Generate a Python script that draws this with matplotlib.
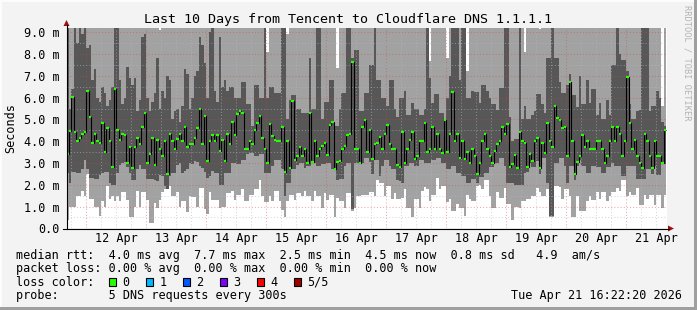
import datetime as dt
import matplotlib
matplotlib.use("Agg")
import matplotlib.pyplot as plt
import matplotlib.dates as mdates
from matplotlib.patches import Rectangle, Polygon
import numpy as np

plt.rcParams['font.family'] = ['DejaVu Sans Mono', 'DejaVu Sans']

W, H = 697, 310

end_time = dt.datetime(2026, 4, 21, 16, 22, 20)
start_time = end_time - dt.timedelta(days=10)
first_bar = dt.datetime(2026, 4, 11, 16, 0, 0)   # hourly consolidated bars

# median rtt per hour (ms)
median_ms = [
    3.4, 4.45, 6.05, 4.4, 4.0, 4.15, 4.35, 4.4, 6.3, 5.1,
    3.9, 4.35, 4.0, 3.9, 4.85, 3.5, 4.6, 4.0, 2.8, 6.4,
    4.5, 4.05, 4.35, 4.3, 3.0, 3.75, 2.75, 3.75, 4.15, 3.85,
    4.65, 5.3, 3.0, 3.4, 4.15, 2.9, 4.05, 3.65, 3.3, 4.0,
    2.5, 4.35, 4.0, 3.65, 4.1, 4.35, 4.0, 4.65, 3.75, 3.85,
    3.85, 4.15, 4.6, 5.5, 3.85, 5.15, 3.1, 4.0, 4.3, 4.0,
    4.3, 3.55, 4.05, 3.1, 4.35, 3.85, 4.9, 4.3, 5.25, 5.4,
    5.3, 3.65, 3.65, 4.0, 3.85, 4.5, 4.85, 5.15, 4.15, 3.65,
    3.0, 4.8, 4.25, 4.05, 4.0, 4.0, 4.65, 2.6, 4.0, 2.75,
    5.85, 3.15, 3.3, 3.75, 3.3, 3.65, 3.0, 5.3, 3.05, 4.0,
    3.3, 3.65, 3.8, 3.9, 3.35, 4.75, 4.9, 2.7, 3.05, 3.1,
    3.65, 3.8, 4.3, 4.35, 7.65, 3.65, 3.65, 3.0, 4.65, 4.95,
    3.5, 4.5, 3.2, 3.85, 3.9, 4.2, 3.65, 4.35, 4.75, 3.85,
    3.65, 3.65, 2.9, 2.8, 4.4, 3.0, 3.65, 4.05, 4.4, 3.2,
    3.3, 4.0, 4.0, 4.85, 3.5, 3.65, 4.65, 3.65, 4.35, 3.65,
    3.45, 4.95, 3.5, 4.35, 6.25, 4.0, 4.35, 3.25, 4.0, 3.2,
    3.5, 3.0, 3.65, 3.3, 2.5, 3.0, 4.0, 4.35, 3.65, 3.3,
    3.0, 3.55, 3.85, 4.0, 4.65, 4.35, 4.8, 2.8, 2.95, 3.35,
    2.75, 4.4, 4.0, 3.9, 2.8, 3.4, 3.1, 4.0, 4.15, 2.75,
    3.9, 3.45, 4.85, 4.0, 3.75, 5.6, 5.05, 4.95, 4.6, 4.65,
    3.3, 6.7, 4.0, 2.5, 3.05, 3.3, 4.3, 3.75, 4.0, 3.65,
    3.65, 3.65, 4.0, 4.0, 3.65, 3.0, 3.3, 4.0, 4.65, 4.0,
    4.65, 4.35, 3.3, 4.0, 6.95, 4.85, 3.65, 4.05, 3.3, 3.0,
    2.75, 4.35, 4.0, 3.3, 2.75, 4.0, 3.3, 3.3, 3.0, 4.5,
]

# smoke: lowest ping (top of the white area)
ping_low = [
    0.4, 1.0, 1.0, 1.0, 1.5, 1.5, 1.7, 1.5, 2.5, 1.35,
    1.35, 1.0, 1.0, 0.55, 1.25, 1.0, 1.95, 1.35, 1.5, 1.25,
    1.5, 1.25, 1.65, 1.65, 1.3, 0.5, 0.5, 1.0, 1.7, 1.0,
    1.65, 1.65, 1.3, 0.25, 0.25, 1.15, 0.95, 1.3, 1.65, 1.8,
    1.8, 1.95, 1.5, 1.5, 1.65, 1.0, 1.25, 1.25, 0.75, 1.5,
    1.45, 1.45, 1.0, 1.85, 1.85, 0.9, 0.65, 1.65, 1.3, 1.3,
    1.3, 0.95, 1.0, 1.0, 1.6, 1.6, 1.7, 1.3, 1.55, 1.55,
    1.8, 1.25, 1.25, 1.55, 1.55, 1.8, 1.8, 2.2, 1.5, 1.2,
    1.2, 1.5, 1.25, 1.7, 1.7, 1.25, 0.85, 0.5, 1.25, 1.55,
    1.55, 1.3, 1.6, 1.6, 1.5, 1.7, 1.5, 1.5, 1.25, 1.7,
    1.5, 1.5, 0.95, 1.6, 1.3, 1.55, 1.55, 0.5, 1.4, 1.25,
    1.25, 0.95, 1.6, 1.6, 0.8, 0.95, 1.5, 1.5, 1.55, 1.55,
    1.55, 1.65, 1.65, 1.5, 2.2, 2.1, 2.1, 1.5, 1.95, 1.95,
    1.35, 1.6, 1.35, 1.35, 1.4, 1.8, 0.95, 0.95, 0.5, 1.35,
    1.35, 0.95, 1.7, 1.9, 1.8, 1.25, 1.55, 1.55, 2.3, 1.8,
    1.95, 1.95, 1.2, 1.35, 0.8, 0.8, 1.1, 0.95, 0.95, 0.55,
    1.55, 1.35, 1.25, 1.25, 1.95, 2.0, 1.8, 2.2, 2.2, 1.5,
    0.95, 0.95, 1.65, 1.4, 1.4, 1.85, 1.1, 1.1, 0.4, 1.0,
    1.0, 0.95, 1.25, 1.25, 1.35, 1.35, 1.5, 1.5, 1.85, 1.65,
    1.5, 1.5, 1.8, 0.5, 0.5, 1.95, 1.95, 1.9, 1.35, 1.8,
    1.8, 1.5, 0.5, 0.5, 1.5, 0.8, 0.8, 0.8, 1.25, 1.5,
    1.3, 1.3, 1.65, 1.35, 1.65, 1.65, 1.25, 1.5, 1.65, 1.65,
    1.85, 1.7, 2.2, 2.2, 1.5, 1.65, 1.55, 1.55, 1.85, 1.05,
    1.05, 1.55, 1.35, 1.55, 1.55, 1.05, 1.55, 1.55, 0.95, 1.55,
]

# smoke: bottom of the dark band
ping_q1 = [
    2.55, 2.1, 2.6, 2.6, 2.55, 2.55, 2.7, 3.15, 2.7, 2.3,
    2.3, 2.25, 2.25, 2.45, 2.55, 2.6, 2.6, 2.1, 2.0, 2.0,
    2.55, 2.9, 3.0, 3.05, 2.8, 2.55, 2.2, 2.2, 2.7, 2.9,
    2.7, 2.7, 2.25, 2.25, 2.25, 2.2, 2.15, 2.45, 2.4, 1.95,
    1.8, 2.4, 2.55, 2.55, 2.9, 3.0, 2.55, 2.65, 2.7, 3.0,
    2.95, 3.1, 3.05, 2.85, 2.75, 2.6, 2.3, 2.4, 2.65, 2.55,
    2.55, 2.0, 2.0, 2.55, 2.55, 2.55, 3.0, 3.0, 2.95, 2.95,
    3.15, 3.15, 3.4, 3.45, 3.45, 3.3, 3.3, 3.4, 3.4, 2.55,
    2.55, 2.55, 2.85, 3.15, 3.15, 3.15, 2.7, 1.5, 2.1, 2.1,
    2.7, 2.7, 2.9, 3.0, 3.0, 2.75, 2.85, 2.85, 3.0, 3.0,
    2.85, 2.85, 2.95, 2.95, 3.0, 3.0, 2.7, 2.7, 2.2, 2.25,
    2.25, 2.85, 3.0, 3.0, 0.9, 3.0, 3.0, 3.0, 3.0, 3.25,
    3.25, 3.05, 2.5, 3.15, 3.15, 2.4, 2.85, 3.15, 3.15, 2.85,
    2.7, 2.7, 2.2, 2.15, 2.1, 2.85, 2.85, 3.0, 3.0, 2.85,
    2.85, 3.15, 3.15, 3.0, 3.0, 3.0, 3.15, 3.15, 3.25, 3.25,
    3.0, 3.0, 2.7, 2.7, 2.85, 2.85, 2.55, 2.55, 2.4, 2.4,
    2.1, 2.1, 2.25, 2.25, 2.1, 2.35, 2.35, 2.55, 2.55, 2.8,
    2.8, 3.0, 3.0, 3.25, 3.25, 2.85, 2.1, 2.1, 2.1, 2.0,
    2.0, 2.0, 2.0, 2.55, 2.6, 3.0, 2.8, 2.8, 3.1, 2.5,
    3.25, 3.25, 2.1, 0.55, 0.55, 3.0, 3.0, 3.25, 3.25, 2.85,
    2.1, 2.85, 2.85, 2.2, 2.85, 3.15, 2.85, 2.85, 2.55, 2.55,
    2.85, 2.85, 2.8, 2.8, 2.55, 2.55, 2.8, 2.8, 3.0, 2.85,
    2.85, 2.85, 2.4, 2.4, 2.85, 2.85, 2.85, 2.85, 2.25, 2.25,
    2.25, 2.25, 2.7, 2.7, 2.5, 2.85, 2.45, 2.45, 2.95, 2.95,
]

# smoke: top of the dark band (values above 9.2 are cut by the graph)
ping_q3 = [
    9.5, 5.5, 6.4, 9.5, 8.5, 9.5, 8.9, 9.5, 8.3, 8.4,
    6.8, 7.3, 6.0, 5.8, 6.5, 6.2, 5.6, 5.9, 6.5, 9.5,
    9.5, 6.8, 5.7, 6.0, 7.4, 6.9, 6.6, 6.9, 5.4, 5.9,
    8.8, 8.9, 6.0, 5.4, 5.8, 6.2, 7.8, 5.5, 6.3, 6.0,
    7.0, 6.8, 5.0, 5.4, 5.5, 4.9, 5.6, 7.3, 7.1, 5.5,
    6.0, 7.0, 7.2, 8.8, 8.4, 7.6, 6.0, 9.0, 9.3, 6.3,
    5.8, 8.8, 6.5, 6.8, 6.3, 6.5, 6.5, 6.0, 6.0, 6.0,
    6.7, 6.7, 5.7, 5.7, 4.7, 6.6, 6.6, 6.0, 6.0, 9.5,
    6.0, 6.5, 6.5, 6.2, 6.2, 6.2, 9.5, 9.5, 5.0, 5.9,
    6.1, 6.1, 5.5, 5.5, 5.3, 5.3, 5.3, 7.8, 5.5, 5.5,
    9.5, 9.5, 5.0, 5.8, 5.8, 6.8, 6.8, 4.7, 4.7, 5.5,
    6.2, 6.2, 9.5, 9.5, 7.8, 8.2, 8.2, 5.4, 5.4, 6.2,
    6.2, 7.5, 7.5, 9.5, 6.8, 6.8, 6.0, 6.0, 5.6, 6.8,
    6.8, 5.5, 5.1, 6.0, 6.0, 6.3, 5.2, 5.2, 5.75, 5.5,
    5.5, 5.2, 5.2, 5.5, 9.5, 6.9, 5.75, 6.15, 6.15, 5.3,
    5.3, 5.0, 6.0, 7.0, 9.5, 9.5, 9.5, 6.8, 9.5, 9.5,
    6.0, 6.0, 6.3, 6.25, 6.25, 5.75, 6.6, 6.6, 6.3, 6.0,
    5.7, 5.7, 5.45, 6.45, 6.45, 9.5, 9.5, 5.1, 4.0, 4.1,
    4.1, 9.5, 5.0, 5.6, 5.0, 5.0, 5.2, 5.4, 6.15, 6.15,
    5.7, 5.3, 7.8, 7.8, 9.5, 7.8, 7.8, 6.7, 6.2, 6.2,
    6.6, 7.1, 6.1, 6.1, 5.55, 7.0, 5.7, 5.7, 6.8, 5.75,
    6.4, 6.4, 5.2, 5.75, 5.0, 5.0, 5.9, 5.2, 7.5, 7.5,
    9.5, 8.0, 7.75, 7.75, 7.2, 5.7, 5.0, 5.0, 5.4, 5.45,
    9.5, 9.5, 9.5, 5.4, 5.6, 5.6, 6.3, 6.0, 4.9, 4.7,
]

# smoke: highest ping (top of the light band, mostly above the graph)
ping_high = [
    9.6, 9.6, 9.6, 9.6, 9.6, 9.6, 9.6, 9.6, 9.6, 9.6, 9.6, 9.6, 9.6, 9.6, 9.6, 9.6, 9.6, 9.6, 9.6, 9.6,
    9.6, 9.6, 9.6, 9.6, 9.6, 9.6, 9.6, 9.6, 9.6, 9.6, 9.6, 9.6, 9.6, 9.6, 9.6, 9.6, 9.6, 9.1, 9.6, 9.6,
    9.6, 9.6, 9.6, 9.6, 9.6, 9.6, 9.6, 9.6, 9.6, 9.6, 9.6, 9.6, 9.6, 9.6, 9.6, 9.6, 9.6, 9.6, 9.6, 9.6,
    9.6, 9.6, 9.6, 9.6, 9.6, 9.6, 9.6, 9.6, 9.6, 9.6, 9.6, 9.6, 9.6, 9.6, 9.6, 9.6, 9.6, 9.6, 9.6, 9.6,
    8.1, 9.6, 9.6, 9.6, 9.6, 9.6, 9.6, 9.6, 8.9, 9.6, 9.6, 9.6, 9.6, 9.6, 9.6, 9.6, 9.6, 9.6, 9.6, 9.6,
    9.6, 9.6, 9.6, 9.6, 9.6, 9.6, 9.6, 9.6, 7.35, 9.6, 9.6, 9.6, 9.6, 9.6, 9.6, 9.6, 9.6, 9.6, 9.6, 9.6,
    9.6, 9.6, 9.6, 9.6, 9.6, 9.6, 9.6, 9.6, 9.6, 9.6, 9.6, 9.6, 9.6, 9.6, 9.6, 9.6, 9.6, 9.6, 9.6, 9.6,
    9.6, 9.6, 9.6, 9.6, 9.6, 7.7, 9.6, 9.6, 9.6, 9.6, 9.6, 9.6, 7.8, 9.6, 9.6, 9.6, 9.6, 9.6, 9.6, 9.6,
    7.2, 9.6, 9.6, 9.6, 9.6, 9.6, 9.6, 9.6, 9.6, 9.6, 9.6, 9.6, 9.6, 9.6, 9.6, 9.6, 9.6, 9.6, 9.6, 9.6,
    9.6, 9.6, 9.6, 8.1, 9.6, 9.6, 9.6, 9.6, 9.6, 9.15, 9.6, 9.6, 9.6, 9.6, 9.6, 9.6, 9.6, 9.6, 9.6, 9.6,
    9.6, 9.6, 9.6, 9.6, 9.6, 9.6, 9.6, 9.6, 9.6, 9.6, 9.6, 9.6, 9.6, 9.6, 9.6, 9.6, 9.6, 9.6, 9.6, 9.6,
    9.6, 9.6, 9.6, 9.6, 9.6, 9.6, 9.6, 9.6, 9.6, 9.6, 9.6, 9.6, 9.6, 9.6, 9.6, 9.6, 9.6, 9.6, 5.6, 9.6,
]

y_ticks = [0, 1, 2, 3, 4, 5, 6, 7, 8, 9]
y_labels = ['0.0', '1.0 m', '2.0 m', '3.0 m', '4.0 m', '5.0 m', '6.0 m', '7.0 m', '8.0 m', '9.0 m']

loss_labels = ['0', '1', '2', '3', '4', '5/5']
loss_colors = ['#26ff00', '#00b8ff', '#0059ff', '#7e00ff', '#ff0000', '#a10000']

legend_lines = [
    'median rtt:  4.0 ms avg  7.7 ms max  2.5 ms min  4.5 ms now  0.8 ms sd   4.9  am/s',
    'packet loss: 0.00 % avg  0.00 % max  0.00 % min  0.00 % now',
    'loss color:',
    'probe:       5 DNS requests every 300s',
]

fig = plt.figure(figsize=(W / 100, H / 100), dpi=100)
fig.patch.set_facecolor('#f3f3f3')

x0, x1, y_top, y_bot = 67, 667, 28, 228.3
ax = fig.add_axes([x0 / W, (H - y_bot) / H, (x1 - x0) / W, (y_bot - y_top) / H])
ax.set_facecolor('white')

n = len(median_ms)
edges = mdates.date2num(first_bar) + np.arange(n + 1) / 24.0

light = '#a2a2a2'
dark = '#575757'
ax.stairs(ping_high, edges, baseline=ping_low, fill=True, color=light, lw=0, zorder=1)
ax.stairs(ping_q3, edges, baseline=ping_q1, fill=True, color=dark, lw=0, zorder=1.5)

# grid: minor every 6 h / 0.5 ms, major at midnight / 1 ms
t = start_time.replace(minute=0, second=0) + dt.timedelta(hours=2)
while t < end_time:
    if t.hour == 0:
        ax.axvline(mdates.date2num(t), color='#e04040', alpha=0.45, lw=0.75,
                   ls=(0, (1, 2)), zorder=2)
    elif t.hour % 6 == 0:
        ax.axvline(mdates.date2num(t), color='#b8b8b8', alpha=0.55, lw=0.75,
                   ls=(0, (1, 2)), zorder=2)
    t += dt.timedelta(hours=1)
for v in np.arange(0.5, 9.1, 0.5):
    if v % 1 == 0:
        ax.axhline(v, color='#e04040', alpha=0.45, lw=0.75, ls=(0, (1, 2)), zorder=2)
    else:
        ax.axhline(v, color='#b8b8b8', alpha=0.55, lw=0.75, ls=(0, (1, 2)), zorder=2)

ax.stairs(median_ms, edges, baseline=None, color='black', lw=0.8, zorder=3)
ax.hlines(median_ms, edges[:-1], edges[1:], colors='#26ff00', lw=1.6, zorder=4)

ax.set_xlim(mdates.date2num(start_time), mdates.date2num(end_time))
ax.set_ylim(0, (y_bot - y_top) / 21.78)

noons = [dt.datetime(2026, 4, d, 12) for d in range(12, 22)]
ax.set_xticks(mdates.date2num(noons))
ax.xaxis.set_major_formatter(mdates.DateFormatter('%d %b'))
ax.set_yticks(y_ticks)
ax.set_yticklabels(y_labels)
ax.tick_params(axis='both', length=0, labelsize=8.5, colors='black')
ax.tick_params(axis='x', pad=3)
ax.tick_params(axis='y', pad=5)
for s in ax.spines.values():
    s.set_visible(False)

# overlay in pixel coordinates for frame, axes arrows and legend
ov = fig.add_axes([0, 0, 1, 1], zorder=10)
ov.set_xlim(0, W)
ov.set_ylim(H, 0)
ov.axis('off')
ov.patch.set_alpha(0)

ov.add_patch(Rectangle((0, 0), W, 2, color='#fcfcfc', lw=0))
ov.add_patch(Rectangle((0, 0), 2, H, color='#fcfcfc', lw=0))
ov.add_patch(Rectangle((0, H - 3), W, 3, color='#9f9f9f', lw=0))
ov.add_patch(Rectangle((W - 3, 0), 3, H, color='#9f9f9f', lw=0))

ov.plot([66.5, 66.5], [229, 25], color='black', lw=0.8)
ov.plot([63, 669], [228.5, 228.5], color='black', lw=0.8)
ov.add_patch(Polygon([[63.5, 26], [69.5, 26], [66.5, 20]], closed=True, color='#a01010', lw=0))
ov.add_patch(Polygon([[668, 225.5], [668, 231.5], [674, 228.5]], closed=True, color='#a01010', lw=0))

ov.text(348, 19, 'Last 10 Days from Tencent to Cloudflare DNS 1.1.1.1',
        ha='center', va='center', fontsize=9.6)
ov.text(11, 128, 'Seconds', rotation=90, ha='center', va='center', fontsize=8.5)
ov.text(687, 5, 'RRDTOOL / TOBI OETIKER', rotation=270, ha='center', va='top',
        fontsize=6.2, color='#b4b4b4')

rows_y = [255, 268.5, 282, 296]
for txt, yy in zip(legend_lines, rows_y):
    ov.text(16, yy, txt, ha='left', va='center', fontsize=8.5)
for i, (lab, col) in enumerate(zip(loss_labels, loss_colors)):
    bx = 108.5 + 37 * i
    ov.add_patch(Rectangle((bx, 277.5), 7.5, 8.5, facecolor=col, edgecolor='black', lw=0.8))
    ov.text(bx + 14, 282, lab, ha='left', va='center', fontsize=8.5)
ov.text(682, 296, 'Tue Apr 21 16:22:20 2026', ha='right', va='center', fontsize=8.5)

fig.savefig('out.png', dpi=100, facecolor=fig.get_facecolor())
